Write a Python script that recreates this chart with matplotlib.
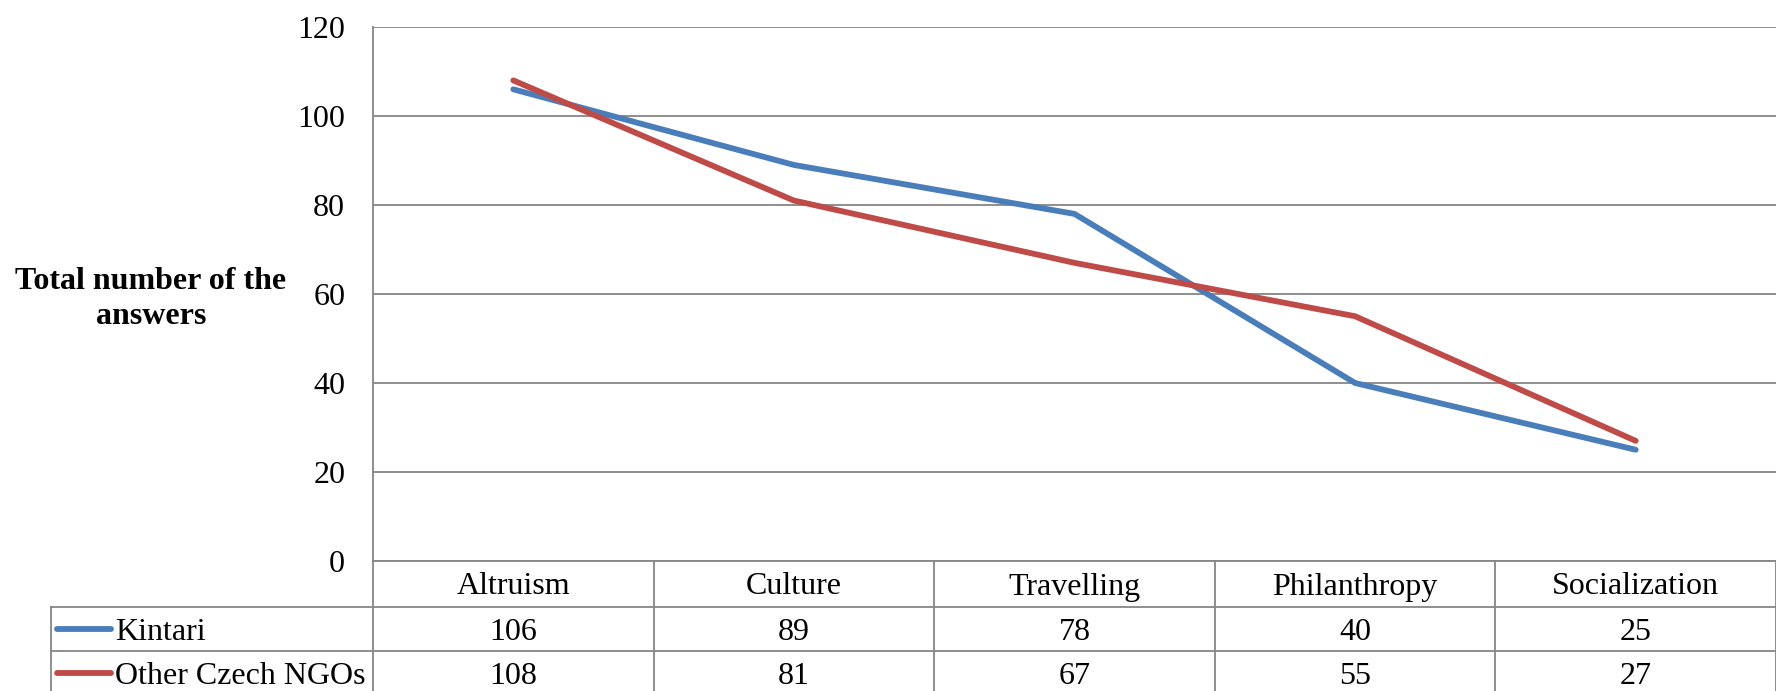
import matplotlib.pyplot as plt
from matplotlib.lines import Line2D
from matplotlib.transforms import blended_transform_factory

plt.rcParams['font.family'] = ['Liberation Serif', 'DejaVu Serif']

# motivation categories and answer counts
categories = ['Altruism', 'Culture', 'Travelling', 'Philanthropy', 'Socialization']
kintari = [106, 89, 78, 40, 25]
other_ngos = [108, 81, 67, 55, 27]
series_names = ['Kintari', 'Other Czech NGOs']
series_colors = ['#4A7EBB', '#BE4B48']
y_ticks = [0, 20, 40, 60, 80, 100, 120]

W, H = 1776, 691
grid_col = '#868686'
fs = 23
lw = 4.2

fig = plt.figure(figsize=(W / 100, H / 100), dpi=100)

def fx(px):
    return px / W

def fy(py):
    return 1 - py / H

# plot area
left, right, top, bottom = 373, 1776, 27, 561
ax = fig.add_axes([fx(left), fy(bottom), fx(right - left), fy(top) - fy(bottom)])

x = [i + 0.5 for i in range(len(categories))]
for vals, col in zip([kintari, other_ngos], series_colors):
    ax.plot(x, vals, color=col, linewidth=lw, solid_capstyle='round',
            solid_joinstyle='round', zorder=3, clip_on=False)

ax.set_xlim(0, len(categories))
ax.set_ylim(0, 120)
ax.set_yticks(y_ticks)
ax.set_xticks([])
ax.yaxis.grid(True, color=grid_col, linewidth=1.3)
ax.set_axisbelow(True)
ax.tick_params(axis='y', length=0, pad=20, labelsize=fs)
for s in ['top', 'right']:
    ax.spines[s].set_visible(False)
for s in ['left', 'bottom']:
    ax.spines[s].set_color(grid_col)
    ax.spines[s].set_linewidth(1.3)

fig.text(fx(151), fy(299), 'Total number of the\nanswers', ha='center', va='center',
         fontsize=fs, fontweight='bold', multialignment='center', linespacing=1.3)

# data table under the axis
trans = blended_transform_factory(ax.transData, fig.transFigure)
rows_y = [561, 607, 651, 695]
table_left = 51
text_dy = 3

def hline(x0, x1, y):
    fig.add_artist(Line2D([fx(x0), fx(x1)], [fy(y), fy(y)], color=grid_col, linewidth=1.3))

hline(table_left, right, rows_y[1])
hline(table_left, right, rows_y[2])
hline(table_left, right, rows_y[3])
fig.add_artist(Line2D([fx(table_left), fx(table_left)], [fy(rows_y[1]), fy(rows_y[3])],
                      color=grid_col, linewidth=1.3))
for i in range(len(categories) + 1):
    fig.add_artist(Line2D([i, i], [fy(rows_y[0]), fy(rows_y[3])], transform=trans,
                          color=grid_col, linewidth=1.3))

for xi, cat in zip(x, categories):
    fig.text(xi, fy((rows_y[0] + rows_y[1]) / 2 + text_dy), cat, transform=trans,
             ha='center', va='center', fontsize=fs)

for r, (name, col, vals) in enumerate(zip(series_names, series_colors, [kintari, other_ngos])):
    ymid = (rows_y[r + 1] + rows_y[r + 2]) / 2
    yc = fy(ymid + text_dy)
    fig.add_artist(Line2D([fx(57), fx(111)], [fy(ymid), fy(ymid)], color=col, linewidth=lw,
                          solid_capstyle='round'))
    fig.text(fx(115), yc, name, ha='left', va='center', fontsize=fs)
    for xi, v in zip(x, vals):
        fig.text(xi, yc, str(v), transform=trans, ha='center', va='center', fontsize=fs)

fig.savefig('out.png', dpi=100)
